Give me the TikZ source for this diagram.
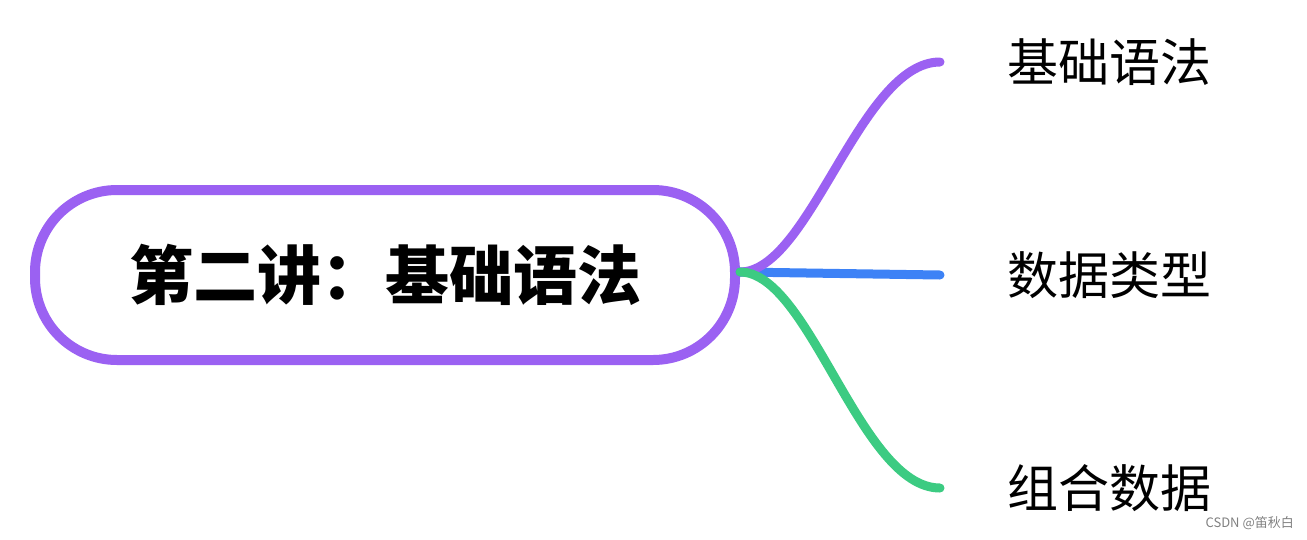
\documentclass[tikz,border=0pt]{standalone}
\usepackage{fontspec}
\newfontfamily\cjk{Noto Sans CJK SC}
\definecolor{pur}{HTML}{9B61F2}
\definecolor{blu}{HTML}{3D82F6}
\definecolor{grn}{HTML}{3CCB82}
\begin{document}
\begin{tikzpicture}[x=1pt,y=-1pt,
  branch/.style={line width=9pt,line cap=round},
  leaf/.style={font=\cjk\fontsize{51}{60}\selectfont,anchor=west,inner sep=0pt}]
\useasboundingbox (0,0) rectangle (1307,539);
\node[draw=pur,line width=10pt,rounded corners=82pt,minimum width=700pt,minimum height=170pt,
  font=\cjk\bfseries\fontsize{64}{70}\selectfont] (root) at (385,275) {第二讲：基础语法};
\coordinate (s) at (740,272);
\coordinate (e1) at (940,62);
\coordinate (e2) at (940,275);
\coordinate (e3) at (940,488);
\node[leaf] (l1) at (1007,62) {基础语法};
\node[leaf] (l2) at (1007,275) {数据类型};
\node[leaf] (l3) at (1007,488) {组合数据};
\draw[branch,blu] (s) -- (e2);
\draw[branch,pur] (s) .. controls (810,272) and (860,62) .. (e1);
\draw[branch,grn] (s) .. controls (810,272) and (860,488) .. (e3);
\node[font=\cjk\fontsize{13}{15}\selectfont,text=gray,anchor=east,inner sep=0pt] (wm) at (1294,523) {CSDN @笛秋白};
\end{tikzpicture}
\end{document}
